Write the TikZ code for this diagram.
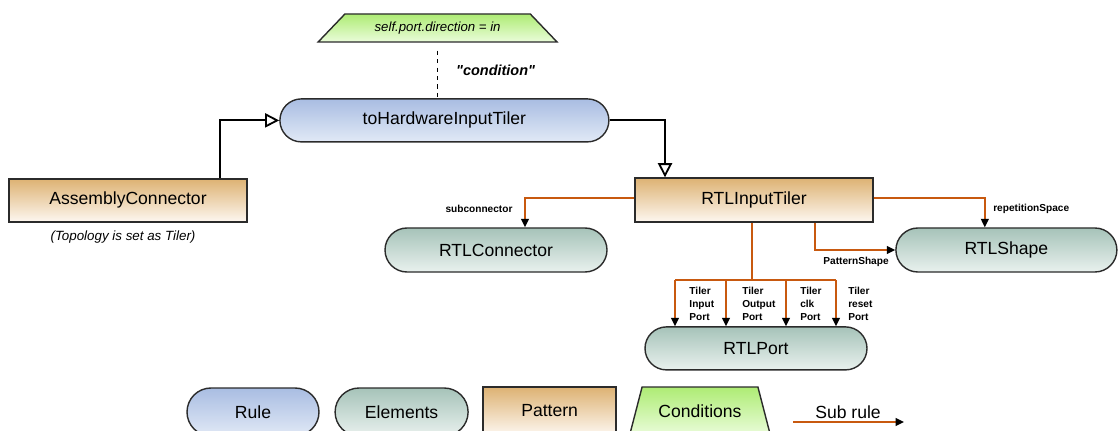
\documentclass[tikz,border=0pt]{standalone}
\usepackage{fontspec}
\setmainfont{Liberation Sans}
\usetikzlibrary{arrows.meta,shapes.geometric}
\definecolor{ruleTop}{HTML}{A9BDE2}
\definecolor{ruleBot}{HTML}{E1E9F6}
\definecolor{elemTop}{HTML}{A6C3B9}
\definecolor{elemBot}{HTML}{E9F1EE}
\definecolor{pattTop}{HTML}{DDB273}
\definecolor{pattBot}{HTML}{FDF7F0}
\definecolor{condTop}{HTML}{AEEC74}
\definecolor{condBot}{HTML}{EAFCDA}
\definecolor{subOrange}{HTML}{C8590F}
\definecolor{edgeGray}{HTML}{2B2B2B}
\begin{document}
\begin{tikzpicture}[
        rul/.style={rounded corners=0.5375cm, draw=edgeGray, line width=1pt, minimum height=1.075cm, top color=ruleTop, bottom color=ruleBot, font=\fontsize{12.5}{14}\selectfont},
        elem/.style={rounded corners=0.55cm, draw=edgeGray, line width=1pt, minimum height=1.1cm, top color=elemTop, bottom color=elemBot, font=\fontsize{12.5}{14}\selectfont},
        patt/.style={rectangle, draw=edgeGray, line width=1pt, minimum height=1.1cm, top color=pattTop, bottom color=pattBot, font=\fontsize{12.5}{14}\selectfont},
        cnd/.style={trapezium, trapezium stretches=true, draw=edgeGray, line width=1pt, top color=condTop, bottom color=condBot},
        inh/.style={-{Triangle[open, length=10pt, width=10pt]}, line width=1.3pt},
        subrule/.style={-{Triangle[length=6pt, width=5.5pt, color=black]}, draw=subOrange, line width=1.25pt},
        tag/.style={font=\fontsize{7.2}{9.2}\selectfont\bfseries, align=left, inner sep=0pt}
    ]
    \useasboundingbox (0,0) rectangle (27.95,-10.775);
    \clip (0,0) rectangle (27.95,-10.775);

    % Condition and rule
    \node[cnd, trapezium angle=48, minimum width=5.975cm, minimum height=0.7cm, font=\fontsize{9.4}{11}\selectfont\itshape] (cond) at (10.94,-0.7) {self.port.direction = in};
    \node[rul, minimum width=8.225cm] (hw) at (11.11,-3.01) {toHardwareInputTiler};
    \node[font=\fontsize{10.3}{12}\selectfont\bfseries\itshape] (condlbl) at (12.39,-1.75) {\textquotedbl condition\textquotedbl};

    % Patterns
    \node[patt, minimum width=5.95cm, minimum height=1.075cm] (asm) at (3.2,-5.01) {AssemblyConnector};
    \node[font=\fontsize{9.5}{11}\selectfont\itshape] (topo) at (3.075,-5.925) {(Topology is set as Tiler)};
    \node[patt, minimum width=5.95cm] (rtlin) at (18.85,-5.0) {RTLInputTiler};

    % Elements
    \node[elem, minimum width=5.55cm] (rtlconn) at (12.4,-6.25) {RTLConnector};
    \node[elem, minimum width=5.525cm] (rtlshape) at (25.16,-6.25) {RTLShape};
    \node[elem, minimum width=5.55cm, minimum height=1.075cm, rounded corners=0.5375cm] (rtlport) at (18.9,-8.71) {RTLPort};

    % Black connectors
    \draw[dashed, line width=0.7pt, shorten <=0.2cm] (cond.south) -- (cond.south |- hw.north);
    \draw[inh] ([xshift=2.3cm]asm.north) |- (hw.west);
    \draw[inh] (hw.east) -| ([xshift=-2.225cm]rtlin.north);

    % Sub rules
    \draw[subrule] ([yshift=0.05cm]rtlin.west) -| ([xshift=0.725cm]rtlconn.north);
    \draw[subrule] ([yshift=0.05cm]rtlin.east) -| ([xshift=-0.54cm]rtlshape.north);
    \draw[subrule] ([xshift=1.525cm]rtlin.south) |- (rtlshape.west);

    \coordinate (bus) at (18.8,-7.0);
    \coordinate (tapA) at (16.875,-7.0);
    \coordinate (tapB) at (18.15,-7.0);
    \coordinate (tapC) at (19.65,-7.0);
    \coordinate (tapD) at (20.9,-7.0);
    \draw[subrule, -] (rtlin.south -| bus) -- (bus);
    \draw[subrule, -] (tapA) -- (tapD);
    \draw[subrule] (tapA) -- (tapA |- rtlport.north);
    \draw[subrule] (tapB) -- (tapB |- rtlport.north);
    \draw[subrule] (tapC) -- (tapC |- rtlport.north);
    \draw[subrule] (tapD) -- (tapD |- rtlport.north);

    % Labels
    \node[tag] (subconn) at (11.975,-5.225) {subconnector};
    \node[tag, anchor=west] (repspace) at (24.825,-5.225) {repetitionSpace};
    \node[tag] (patshape) at (21.4,-6.55) {PatternShape};
    \node[tag, anchor=west] (tInput) at (17.23,-7.59) {Tiler\\Input\\Port};
    \node[tag, anchor=west] (tOutput) at (18.55,-7.59) {Tiler\\Output\\Port};
    \node[tag, anchor=west] (tClk) at (20.0,-7.59) {Tiler\\clk\\Port};
    \node[tag, anchor=west] (tReset) at (21.2,-7.59) {Tiler\\reset\\Port};

    % Legend
    \node[rul, minimum width=3.3cm, minimum height=1.2cm, rounded corners=0.6cm] (lgRule) at (6.325,-10.3) {Rule};
    \node[elem, minimum width=3.325cm, minimum height=1.2cm, rounded corners=0.6cm] (lgElem) at (10.04,-10.3) {Elements};
    \node[patt, minimum width=3.325cm, minimum height=1.2cm] (lgPatt) at (13.74,-10.275) {Pattern};
    \node[cnd, trapezium angle=66, minimum width=3.525cm, minimum height=1.2cm, font=\fontsize{12.5}{14}\selectfont] (lgCond) at (17.5,-10.275) {Conditions};
    \node[font=\fontsize{12.5}{14}\selectfont] (lgSub) at (21.2,-10.3) {Sub rule};
    \coordinate (subA) at (19.825,-10.55);
    \coordinate (subB) at (22.6,-10.55);
    \draw[subrule] (subA) -- (subB);

    \end{tikzpicture}
\end{document}
